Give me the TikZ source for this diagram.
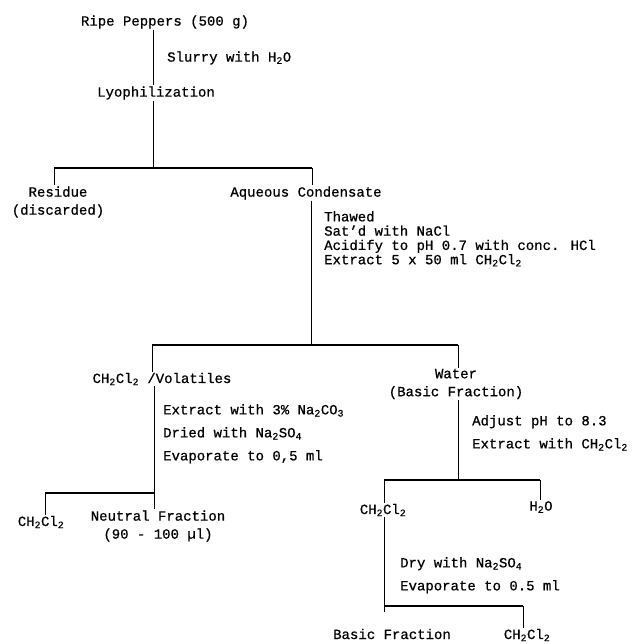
\documentclass[tikz,border=0pt]{standalone}
\usepackage{fontspec}
\setmainfont{Liberation Mono}[BoldFont=Liberation Mono, BoldFeatures={FakeBold=0.7}]
\newcommand{\sbs}[1]{\textsubscript{#1}}
\tikzset{
  lbl/.style={inner sep=1pt, font=\fontsize{14}{18}\selectfont\bfseries, align=center},
  stepsA/.style={inner sep=0pt, anchor=north west, font=\fontsize{14}{14.3}\selectfont\bfseries, align=left},
  stepsB/.style={inner sep=0pt, anchor=north west, font=\fontsize{14}{23}\selectfont\bfseries, align=left},
  vline/.style={line width=1pt},
  hline/.style={line width=1.6pt},
}
\begin{document}
\begin{tikzpicture}[x=1pt,y=-1pt]
\useasboundingbox (0,0) rectangle (639,644);
% nodes
\node[lbl] (ripe) at (165,22) {Ripe Peppers (500 g)};
\node[lbl, anchor=west] (slurry) at (166,58) {Slurry with H\sbs{2}O};
\node[lbl] (lyo) at (156,93) {Lyophilization};
\node[lbl] (res) at (58,202) {Residue\\(discarded)};
\node[lbl] (aq) at (306,193) {Aqueous Condensate};
\node[stepsA] (st2) at (324,211) {Thawed\\Sat'd with NaCl\\Acidify to pH 0.7 with conc. HCl\\Extract 5 x 50 ml CH\sbs{2}Cl\sbs{2}};
\node[lbl] (vol) at (162,379) {CH\sbs{2}Cl\sbs{2} /Volatiles};
\node[lbl] (water) at (456,384) {Water\\(Basic Fraction)};
\node[stepsB] (st3) at (163,404) {Extract with 3\% Na\sbs{2}CO\sbs{3}\\Dried with Na\sbs{2}SO\sbs{4}\\Evaporate to 0,5 ml};
\node[lbl] (cha) at (41,522) {CH\sbs{2}Cl\sbs{2}};
\node[lbl] (neut) at (158,526) {Neutral Fraction\\(90 - 100 µl)};
\node[stepsB] (st4) at (472,415) {Adjust pH to 8.3\\Extract with CH\sbs{2}Cl\sbs{2}};
\node[lbl] (chb) at (383,510) {CH\sbs{2}Cl\sbs{2}};
\node[lbl] (h2o) at (541,507) {H\sbs{2}O};
\node[stepsB] (st5) at (400,557) {Dry with Na\sbs{2}SO\sbs{4}\\Evaporate to 0.5 ml};
\node[lbl] (basic) at (392,634) {Basic Fraction};
\node[lbl] (chc) at (527,635) {CH\sbs{2}Cl\sbs{2}};
% junctions
\coordinate (j1) at (153,168);
\coordinate (j1l) at (54,168);
\coordinate (j1r) at (312,168);
\coordinate (j2) at (311,345);
\coordinate (j2l) at (152,345);
\coordinate (j2r) at (458,345);
\coordinate (j3) at (154,493);
\coordinate (j3l) at (45,493);
\coordinate (j4) at (458,480);
\coordinate (j4l) at (384,480);
\coordinate (j4r) at (540,480);
\coordinate (j5) at (384,606);
\coordinate (j5r) at (523,606);
% connectors
\draw[vline] (ripe.south -| j1) -- (lyo.north -| j1);
\draw[vline] (lyo.south -| j1) -- (j1);
\draw[hline] (j1l) -- (j1r);
\draw[vline] (j1l) -- (j1l |- res.north);
\draw[vline] (j1r) -- (j1r |- aq.north);
\draw[vline] (aq.south -| j2) -- (j2);
\draw[hline] (j2l) -- (j2r);
\draw[vline] (j2l) -- (j2l |- vol.north);
\draw[vline] (j2r) -- (j2r |- water.north);
\draw[vline] (vol.south -| j3) -- (j3);
\draw[hline] (j3l) -- (j3);
\draw[vline] (j3l) -- (j3l |- cha.north);
\draw[vline] (j3) -- (j3 |- neut.north);
\draw[vline] (water.south -| j4) -- (j4);
\draw[hline] (j4l) -- (j4r);
\draw[vline] (j4l) -- (j4l |- chb.north);
\draw[vline] (j4r) -- (j4r |- h2o.north);
\draw[vline] (chb.south -| j5) -- (j5);
\draw[hline] (j5) -- (j5r);
\draw[vline] (j5) -- ++(0,6);
\draw[vline] (j5r) -- (j5r |- chc.north);
\end{tikzpicture}
\end{document}
